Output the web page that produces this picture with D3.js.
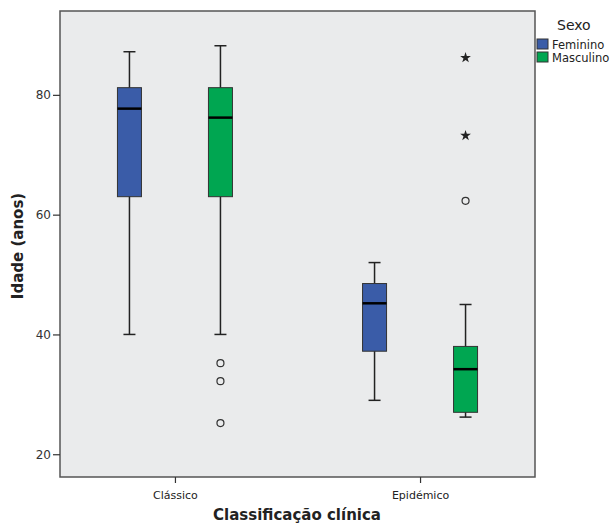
<!DOCTYPE html>
<html>
<head>
<meta charset="utf-8">
<script src="https://cdn.jsdelivr.net/npm/d3@7"></script>
<style>
  body { margin: 0; background: #fff; }
  svg { display: block; }
  text { font-family: "DejaVu Sans", sans-serif; fill: #222; }
</style>
</head>
<body>
<svg id="main" width="614" height="524"></svg>
<script>
// categories and groups
var categories = ["Clássico", "Epidémico"];
var sexes = ["Feminino", "Masculino"];
var sexColors = ["#3a5ca8", "#00a651"];

// box stats, one entry per (category, sex): Fem Clas, Masc Clas, Fem Epi, Masc Epi
var groupCat = ["Clássico", "Clássico", "Epidémico", "Epidémico"];
var groupSex = ["Feminino", "Masculino", "Feminino", "Masculino"];
var whiskerLow = [40, 40, 29, 26.2];
var q1 = [63, 63, 37.2, 27];
var median = [77.7, 76.2, 45.2, 34.2];
var q3 = [81.2, 81.2, 48.5, 38];
var whiskerHigh = [87.2, 88.2, 52, 45];

// outliers (circles) and extremes (stars)
var outlierCat = ["Clássico", "Clássico", "Clássico", "Epidémico"];
var outlierSex = ["Masculino", "Masculino", "Masculino", "Masculino"];
var outlierVal = [35.2, 32.2, 25.2, 62.3];
var extremeCat = ["Epidémico", "Epidémico"];
var extremeSex = ["Masculino", "Masculino"];
var extremeVal = [86.2, 73.2];

var yTicks = [20, 40, 60, 80];

var svg = d3.select("#main");
var plot = {left: 60, right: 535, top: 11, bottom: 477};

var x = d3.scalePoint().domain(categories).range([plot.left, plot.right]).padding(0.469);
var xSub = d3.scalePoint().domain(sexes).range([-45.5, 45.5]);
var y = d3.scaleLinear().domain([16.2, 94]).range([plot.bottom, plot.top]);
var color = d3.scaleOrdinal().domain(sexes).range(sexColors);
var boxW = 24;

function cx(cat, sex) { return x(cat) + xSub(sex); }

// background
svg.append("rect")
  .attr("x", plot.left).attr("y", plot.top)
  .attr("width", plot.right - plot.left).attr("height", plot.bottom - plot.top)
  .style("fill", "#eaebec")
  .style("stroke", "#555").style("stroke-width", 1.5);

// axes
var yAxis = svg.append("g")
  .attr("transform", "translate(" + plot.left + ",0)")
  .call(d3.axisLeft(y).tickValues(yTicks).tickSize(7).tickSizeOuter(0));
yAxis.select(".domain").remove();
yAxis.selectAll("line").style("stroke", "#333").style("stroke-width", 1.2);
yAxis.selectAll("text").style("font-size", "12px").style("fill", "#333")
  .style("font-family", "DejaVu Sans, sans-serif").attr("dx", "1");

var xAxis = svg.append("g")
  .attr("transform", "translate(0," + plot.bottom + ")")
  .call(d3.axisBottom(x).tickSize(6).tickSizeOuter(0));
xAxis.select(".domain").remove();
xAxis.selectAll("line").style("stroke", "#333").style("stroke-width", 1.2);
xAxis.selectAll("text").style("font-size", "11px").style("fill", "#222")
  .style("font-family", "DejaVu Sans, sans-serif").attr("dy", "1.2em");

// axis titles
svg.append("text")
  .attr("x", 297).attr("y", 520)
  .attr("text-anchor", "middle")
  .style("font-size", "15px").style("font-weight", "bold")
  .text("Classificação clínica");

svg.append("text")
  .attr("transform", "translate(23,246) rotate(-90)")
  .attr("text-anchor", "middle")
  .style("font-size", "15px").style("font-weight", "bold")
  .text("Idade (anos)");

// boxes
var idx = d3.range(groupCat.length);
var g = svg.append("g").selectAll("g").data(idx).enter().append("g");

g.append("line")
  .attr("x1", function(i) { return cx(groupCat[i], groupSex[i]); })
  .attr("x2", function(i) { return cx(groupCat[i], groupSex[i]); })
  .attr("y1", function(i) { return y(whiskerHigh[i]); })
  .attr("y2", function(i) { return y(whiskerLow[i]); })
  .style("stroke", "#222").style("stroke-width", 1.5);

[whiskerHigh, whiskerLow].forEach(function(arr) {
  g.append("line")
    .attr("x1", function(i) { return cx(groupCat[i], groupSex[i]) - boxW / 4; })
    .attr("x2", function(i) { return cx(groupCat[i], groupSex[i]) + boxW / 4; })
    .attr("y1", function(i) { return y(arr[i]); })
    .attr("y2", function(i) { return y(arr[i]); })
    .style("stroke", "#222").style("stroke-width", 1.5);
});

g.append("rect")
  .attr("x", function(i) { return cx(groupCat[i], groupSex[i]) - boxW / 2; })
  .attr("width", boxW)
  .attr("y", function(i) { return y(q3[i]); })
  .attr("height", function(i) { return y(q1[i]) - y(q3[i]); })
  .style("fill", function(i) { return color(groupSex[i]); })
  .style("stroke", "#333").style("stroke-width", 1);

g.append("line")
  .attr("x1", function(i) { return cx(groupCat[i], groupSex[i]) - boxW / 2; })
  .attr("x2", function(i) { return cx(groupCat[i], groupSex[i]) + boxW / 2; })
  .attr("y1", function(i) { return y(median[i]); })
  .attr("y2", function(i) { return y(median[i]); })
  .style("stroke", "#000").style("stroke-width", 2.5);

// outliers
svg.append("g").selectAll("circle").data(d3.range(outlierVal.length)).enter()
  .append("circle")
  .attr("cx", function(i) { return cx(outlierCat[i], outlierSex[i]); })
  .attr("cy", function(i) { return y(outlierVal[i]); })
  .attr("r", 3.5)
  .style("fill", "none").style("stroke", "#333").style("stroke-width", 1.2);

var star = d3.symbol().type(d3.symbolStar).size(36);
svg.append("g").selectAll("path").data(d3.range(extremeVal.length)).enter()
  .append("path")
  .attr("transform", function(i) {
    return "translate(" + cx(extremeCat[i], extremeSex[i]) + "," + y(extremeVal[i]) + ")";
  })
  .attr("d", star)
  .style("fill", "#222");

// legend
var legend = svg.append("g");
legend.append("text")
  .attr("x", 557).attr("y", 30)
  .style("font-size", "14px")
  .text("Sexo");
var li = legend.selectAll("g").data(sexes).enter().append("g")
  .attr("transform", function(d, i) { return "translate(537," + (39 + i * 13) + ")"; });
li.append("rect")
  .attr("width", 11).attr("height", 10)
  .style("fill", function(d) { return color(d); })
  .style("stroke", "#333").style("stroke-width", 1);
li.append("text")
  .attr("x", 15).attr("y", 9.5)
  .style("font-size", "11.5px")
  .text(function(d) { return d; });
</script>
</body>
</html>
